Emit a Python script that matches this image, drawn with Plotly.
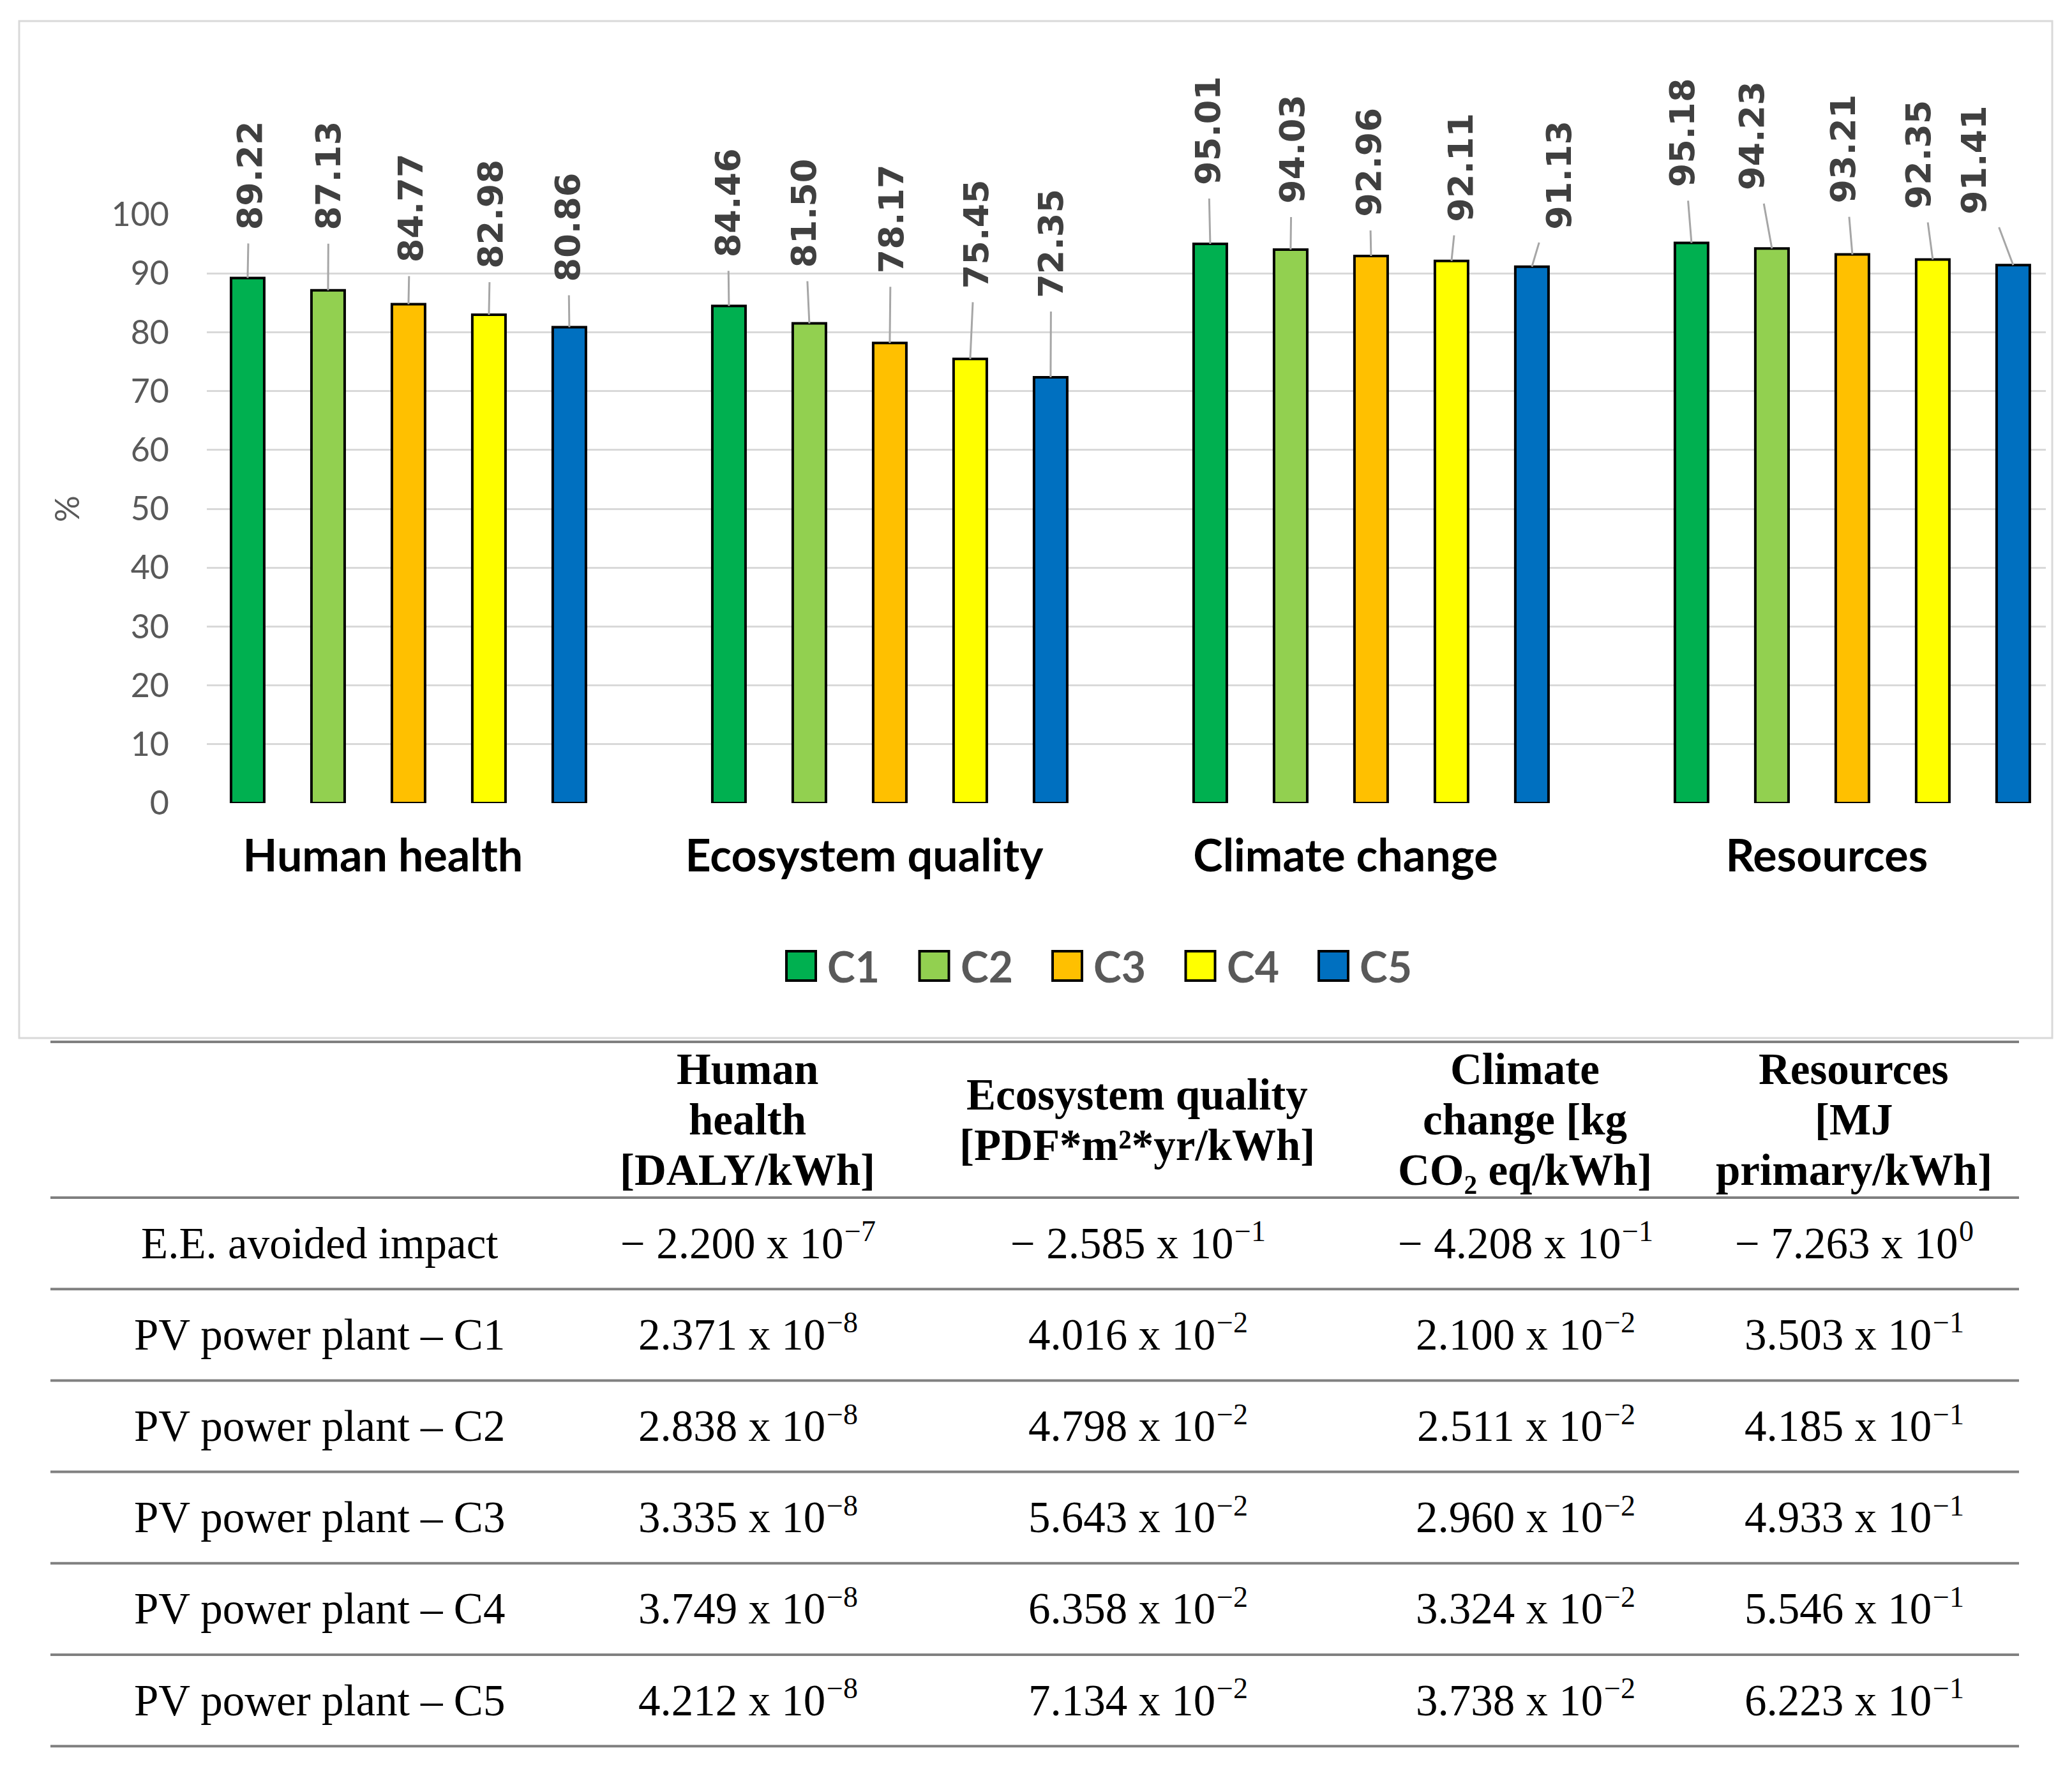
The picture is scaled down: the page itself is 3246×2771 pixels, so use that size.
import math
import plotly.graph_objects as go

# ---------------- data ----------------
categories = ["Human health", "Ecosystem quality", "Climate change", "Resources"]
series_names = ["C1", "C2", "C3", "C4", "C5"]
c1 = [89.22, 84.46, 95.01, 95.18]
c2 = [87.13, 81.50, 94.03, 94.23]
c3 = [84.77, 78.17, 92.96, 93.21]
c4 = [82.98, 75.45, 92.11, 92.35]
c5 = [80.86, 72.35, 91.13, 91.41]
series_values = [c1, c2, c3, c4, c5]
y_ticks = [0, 10, 20, 30, 40, 50, 60, 70, 80, 90, 100]

table_row_labels = ["E.E. avoided impact", "PV power plant – C1", "PV power plant – C2",
                    "PV power plant – C3", "PV power plant – C4", "PV power plant – C5"]
table_headers = [
    [],
    ["Human", "health", "[DALY/kWh]"],
    ["Ecosystem quality", "[PDF*m²*yr/kWh]"],
    ["Climate", "change [kg", "CO₂ eq/kWh]"],
    ["Resources", "[MJ", "primary/kWh]"],
]
human_health_vals = [-2.200e-7, 2.371e-8, 2.838e-8, 3.335e-8, 3.749e-8, 4.212e-8]
ecosystem_vals = [-2.585e-1, 4.016e-2, 4.798e-2, 5.643e-2, 6.358e-2, 7.134e-2]
climate_vals = [-4.208e-1, 2.100e-2, 2.511e-2, 2.960e-2, 3.324e-2, 3.738e-2]
resources_vals = [-7.263e0, 3.503e-1, 4.185e-1, 4.933e-1, 5.546e-1, 6.223e-1]
table_columns = [human_health_vals, ecosystem_vals, climate_vals, resources_vals]

# ---------------- styles ----------------
colors = ["#00B050", "#92D050", "#FFC000", "#FFFF00", "#0070C0"]
# data-label offsets (pixels) from bar top, per series, per category
label_ax = [[3, -2, -4, -14], [1, -8, 2, -32], [3, 2, -3, -14], [3, 9, 15, -22], [-2, 1, 43, -62]]
label_ay = [[-161, -162, -178, -173], [-180, -173, -158, -177], [-151, -195, -147, -166],
            [-158, -196, -147, -165], [-157, -210, -144, -165]]

# page offset (browser body margin) compensation
OFF = 8
REF_W, REF_H = 3246, 2771
W, H = REF_W - 2 * OFF, REF_H - 2 * OFF
# plot area in reference pixel coordinates
L, R, T, B = 324, 3205, 336, 1258
PW, PH = R - L, B - T

GROUP_SHIFT = 0.053   # bar group offset from category centre (category units)
SLOT = 0.1671         # distance between bars in a group
BAR_W = 0.069

SANS = "Lato"
SERIF = "Liberation Serif"
TAB_SIZE = 69
SUP_SIZE = 46
SUP_SHIFT = 19
# Times / Liberation Serif advance widths (em)
SERIF_W = {".": 0.25, " ": 0.25, "x": 0.5, "−": 0.564}


def pxx(v):
    return (v - L) / PW


def pxy(v):
    return (B - v) / PH


def serif_width(s, size):
    return sum(SERIF_W.get(ch, 0.5) for ch in s) * size


fig = go.Figure()
for i, (name, vals) in enumerate(zip(series_names, series_values)):
    fig.add_trace(go.Bar(
        name=name, x=categories, y=vals,
        width=BAR_W, offset=GROUP_SHIFT + (i - 2) * SLOT - BAR_W / 2,
        marker=dict(color=colors[i], line=dict(color="black", width=4)),
        hoverinfo="x+y+name",
    ))

annotations = []
shapes = []

# data labels with leader lines
for i, vals in enumerate(series_values):
    for j, v in enumerate(vals):
        annotations.append(dict(
            x=j + GROUP_SHIFT + (i - 2) * SLOT, y=v, xref="x", yref="y",
            text=f"{v:.2f}", textangle=-90,
            font=dict(family="DejaVu Sans", size=54, color="#404040", weight="bold"),
            showarrow=True, arrowhead=0, arrowwidth=3, arrowcolor="#A6A6A6",
            ax=label_ax[i][j], ay=label_ay[i][j], startstandoff=20,
        ))

# y-axis title
annotations.append(dict(x=pxx(104), y=0.5, xref="paper", yref="paper", text="%",
                        textangle=-90, showarrow=False, xanchor="center", yanchor="middle",
                        font=dict(family=SANS, size=52, color="#595959")))

# custom legend
LEG_X0, LEG_STEP, SW, LEG_YC = 1232, 208.5, 46, 1513
for i, name in enumerate(series_names):
    x0 = LEG_X0 + i * LEG_STEP
    shapes.append(dict(type="rect", xref="paper", yref="paper",
                       x0=pxx(x0), x1=pxx(x0 + SW), y0=pxy(LEG_YC + SW / 2), y1=pxy(LEG_YC - SW / 2),
                       fillcolor=colors[i], line=dict(color="black", width=4)))
    annotations.append(dict(x=pxx(x0 + SW + 16), y=pxy(LEG_YC), xref="paper", yref="paper",
                            text=f"<b>{name}</b>", showarrow=False, xanchor="left", yanchor="middle",
                            font=dict(family=SANS, size=66, color="#595959")))

# chart frame
shapes.append(dict(type="rect", xref="paper", yref="paper", layer="below",
                   x0=pxx(30), x1=pxx(3215), y0=pxy(1626), y1=pxy(33),
                   line=dict(color="#D9D9D9", width=3)))

# ---------------- table ----------------
TAB_X0, TAB_X1 = 79, 3163
TAB_TOP, HEAD_H, ROW_H = 1632, 244, 143.2
col_centers = [500, 1171, 1782, 2389, 2904]
HEAD_LINE = 79
line_ys = [TAB_TOP, TAB_TOP + HEAD_H] + [TAB_TOP + HEAD_H + ROW_H * (k + 1) for k in range(len(table_row_labels))]
for ly in line_ys:
    shapes.append(dict(type="line", xref="paper", yref="paper",
                       x0=pxx(TAB_X0), x1=pxx(TAB_X1), y0=pxy(ly), y1=pxy(ly),
                       line=dict(color="#808080", width=4)))

head_c = TAB_TOP + HEAD_H / 2
for c, lines in enumerate(table_headers):
    n = len(lines)
    for k, txt in enumerate(lines):
        yc = head_c + (k - (n - 1) / 2) * HEAD_LINE
        annotations.append(dict(x=pxx(col_centers[c]), y=pxy(yc), xref="paper", yref="paper",
                                text=f"<b>{txt}</b>", showarrow=False, xanchor="center", yanchor="middle",
                                font=dict(family=SERIF, size=TAB_SIZE, color="black")))


def sci_parts(v):
    e = math.floor(math.log10(abs(v)))
    m = abs(v) / (10 ** e)
    sign = "− " if v < 0 else ""
    return f"{sign}{m:.3f} x 10", f"{e}".replace("-", "−")


for r, lab in enumerate(table_row_labels):
    yc = TAB_TOP + HEAD_H + ROW_H * (r + 0.5)
    annotations.append(dict(x=pxx(col_centers[0]), y=pxy(yc), xref="paper", yref="paper",
                            text=lab, showarrow=False, xanchor="center", yanchor="middle",
                            font=dict(family=SERIF, size=TAB_SIZE, color="black")))
    for c, col in enumerate(table_columns):
        main, sup = sci_parts(col[r])
        wm = serif_width(main, TAB_SIZE)
        ws = serif_width(sup, SUP_SIZE)
        split = col_centers[c + 1] - (wm + ws) / 2 + wm
        annotations.append(dict(x=pxx(split), y=pxy(yc), xref="paper", yref="paper",
                                text=main, showarrow=False, xanchor="right", yanchor="middle",
                                borderpad=0, borderwidth=0,
                                font=dict(family=SERIF, size=TAB_SIZE, color="black")))
        annotations.append(dict(x=pxx(split + 2), y=pxy(yc), yshift=SUP_SHIFT, xref="paper", yref="paper",
                                text=sup, showarrow=False, xanchor="left", yanchor="middle",
                                borderpad=0, borderwidth=0,
                                font=dict(family=SERIF, size=SUP_SIZE, color="black")))

fig.update_layout(
    width=W, height=H,
    margin=dict(l=L - OFF, r=W - (R - OFF), t=T - OFF, b=H - (B - OFF), pad=0),
    paper_bgcolor="white", plot_bgcolor="white",
    barmode="overlay", showlegend=False,
    annotations=annotations, shapes=shapes,
    xaxis=dict(type="category", range=[-0.366, 3.455], showgrid=False, zeroline=False,
               showline=False, ticks="", ticklabelstandoff=36,
               tickfont=dict(family=SANS, size=70, color="black", weight="bold")),
    yaxis=dict(range=[0, 100], tickvals=y_ticks, showgrid=True, gridcolor="#D9D9D9", gridwidth=3,
               zeroline=False, showline=False, ticks="", ticklabelstandoff=58,
               tickfont=dict(family=SANS, size=52, color="#595959")),
)

fig.write_html("out.html")
